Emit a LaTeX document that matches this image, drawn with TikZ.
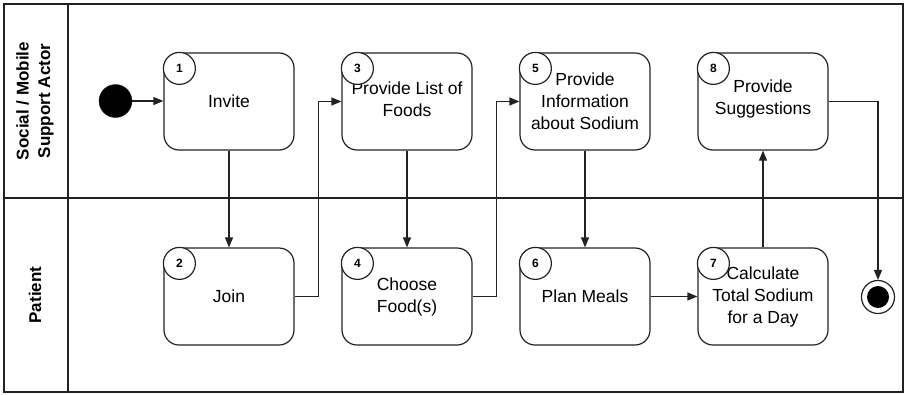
\documentclass[tikz,border=0pt]{standalone}
\usepackage{fontspec}
\setmainfont{Liberation Sans}
\usetikzlibrary{arrows.meta,calc}
\definecolor{ln}{RGB}{34,34,34}
\begin{document}
\begin{tikzpicture}[x=1pt,y=-1pt,
  act/.style={draw=ln,line width=1.2pt,rounded corners=15pt,minimum width=130pt,minimum height=97pt,
    align=center,inner sep=0pt,font=\fontsize{17.5}{22}\selectfont},
  acttext/.style={align=center,inner sep=0pt,font=\fontsize{17.5}{22}\selectfont},
  num/.style={draw=ln,line width=1.2pt,circle,fill=white,minimum size=32pt,inner sep=0pt,
    font=\fontsize{12}{14}\selectfont\bfseries},
  lane/.style={rotate=90,align=center,font=\fontsize{17}{21.5}\selectfont\bfseries},
  flow/.style={draw=ln,line width=1.2pt,-{Triangle[length=10pt,width=8pt]}},
  frame/.style={draw=ln,line width=1.5pt}]
\useasboundingbox (0,0) rectangle (905,394);
% lanes
\draw[frame] (4,4) rectangle (903,392);
\draw[frame] (68,4) -- (68,392);
\draw[frame] (4,198) -- (903,198);
\node[lane] (l1) at (35,101) {Social / Mobile\\Support Actor};
\node[lane] (l2) at (35,295) {Patient};
% activities
\node[act] (b1) at (229,101.5) {Invite};
\node[act] (b3) at (407,101.5) {};
\node[acttext] (t3) at (407,99) {Provide List of\\Foods};
\node[act] (b5) at (585,101.5) {Provide\\Information\\about Sodium};
\node[act] (b8) at (763,101.5) {};
\node[acttext] (t8) at (763,99) {Provide\\Suggestions};
\node[act] (b2) at (229,296.5) {Join};
\node[act] (b4) at (407,296.5) {Choose\\Food(s)};
\node[act] (b6) at (585,296.5) {Plan Meals};
\node[act] (b7) at (763,296.5) {Calculate\\Total Sodium\\for a Day};
\foreach \b/\n in {b1/1,b2/2,b3/3,b4/4,b5/5,b6/6,b7/7,b8/8}{
  \node[num] (n\n) at ($(\b.north west)+(16,16)$) {\n};
}
% start / end
\node[circle,fill=black,draw=ln,minimum size=33pt,inner sep=0pt] (start) at (115.5,101) {};
\node[circle,draw=ln,line width=1.2pt,minimum size=33pt,inner sep=0pt] (end) at (878,297) {};
\node[circle,fill=black,minimum size=22pt,inner sep=0pt] (endin) at (878,297) {};
% flows
\draw[flow] (start) -- (start -| b1.west);
\draw[flow] (b1.south) -- (b2.north);
\draw[flow] (b2.east) -- ++(24,0) |- (b3.west);
\draw[flow] (b3.south) -- (b4.north);
\draw[flow] (b4.east) -- ++(24,0) |- (b5.west);
\draw[flow] (b5.south) -- (b6.north);
\draw[flow] (b6.east) -- (b7.west);
\draw[flow] (b7.north) -- (b8.south);
\draw[flow] (b8.east) -| (end.north);
\end{tikzpicture}
\end{document}
